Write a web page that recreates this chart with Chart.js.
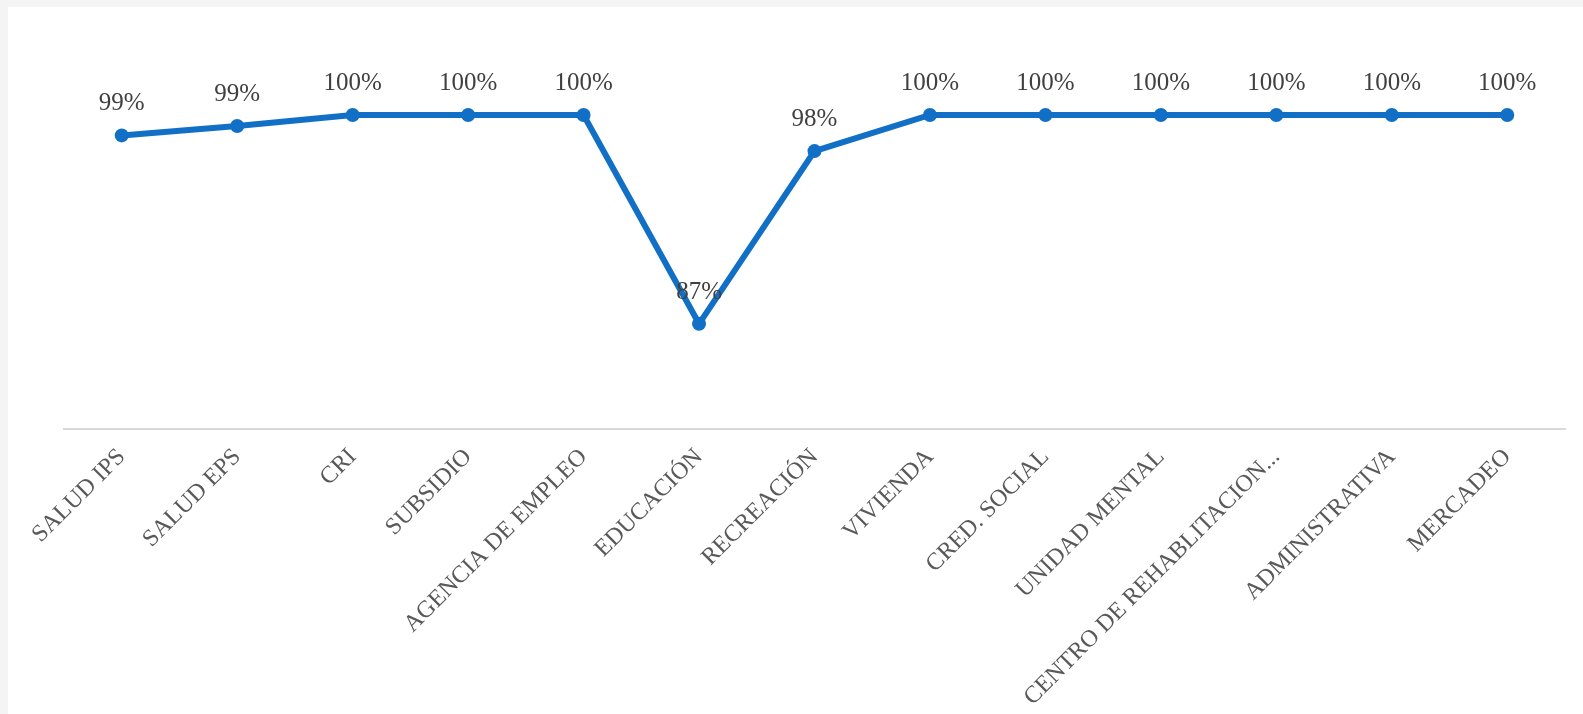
<!DOCTYPE html>
<html lang="es">
<head>
<meta charset="UTF-8">
<title>Cumplimiento por área</title>
<script src="https://cdn.jsdelivr.net/npm/chart.js"></script>
<style>
    html, body { margin: 0; padding: 0; background: #f4f4f4; }
    .wrap {
        position: absolute;
        left: 8px;
        top: 7px;
        width: 1575px;
        height: 707px;
        background: #ffffff;
    }
</style>
</head>
<body>
<div class="wrap"><canvas id="chart"></canvas></div>
<script>
// Áreas y porcentaje de cumplimiento
const areas = ['SALUD IPS', 'SALUD EPS', 'CRI', 'SUBSIDIO', 'AGENCIA DE EMPLEO', 'EDUCACIÓN', 'RECREACIÓN',
    'VIVIENDA', 'CRED. SOCIAL', 'UNIDAD MENTAL', 'CENTRO DE REHABLITACION...', 'ADMINISTRATIVA', 'MERCADEO'];
const cumplimiento = [98.7, 99.3, 100, 100, 100, 86.7, 97.7, 100, 100, 100, 100, 100, 100];
const yMin = 80;
const yMax = 100;

const serif = "'Liberation Serif', 'DejaVu Serif', serif";

// etiquetas de valor sobre cada punto
const valueLabels = {
    id: 'valueLabels',
    afterDatasetsDraw(chart) {
        const ctx = chart.ctx;
        const meta = chart.getDatasetMeta(0);
        ctx.save();
        ctx.fillStyle = '#404040';
        ctx.font = '25px ' + serif;
        ctx.textAlign = 'center';
        ctx.textBaseline = 'alphabetic';
        meta.data.forEach((pt, i) => {
            const txt = Math.round(cumplimiento[i]) + '%';
            ctx.fillText(txt, pt.x, pt.y - 25);
        });
        ctx.restore();
    }
};

new Chart(document.getElementById('chart'), {
    type: 'line',
    data: {
        labels: areas,
        datasets: [{
            data: cumplimiento,
            borderColor: '#1170c6',
            backgroundColor: '#1170c6',
            borderWidth: 6,
            pointRadius: 7,
            pointHoverRadius: 7,
            pointBorderWidth: 0,
            tension: 0,
            clip: false
        }]
    },
    options: {
        responsive: true,
        maintainAspectRatio: false,
        animation: false,
        layout: { padding: { top: 108, left: 56, right: 18, bottom: 0 } },
        plugins: {
            legend: { display: false },
            tooltip: { enabled: false }
        },
        scales: {
            x: {
                offset: true,
                grid: { display: false, drawTicks: false },
                border: { display: true, color: '#d9d9d9', width: 2 },
                ticks: {
                    color: '#595959',
                    font: { family: serif, size: 24 },
                    maxRotation: 45,
                    minRotation: 45,
                    padding: 14,
                    autoSkip: false
                },
                afterFit(scale) { scale.height = 285; }
            },
            y: {
                display: false,
                min: yMin,
                max: yMax
            }
        }
    },
    plugins: [valueLabels]
});
</script>
</body>
</html>
